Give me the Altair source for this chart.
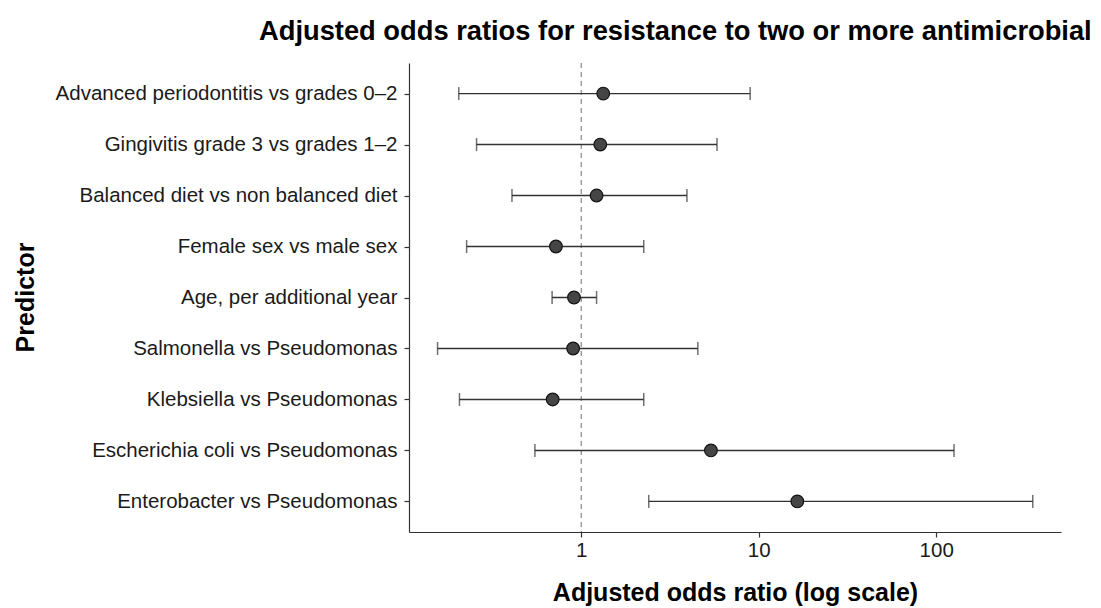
import altair as alt
import pandas as pd

predictors = [
    "Advanced periodontitis vs grades 0–2",
    "Gingivitis grade 3 vs grades 1–2",
    "Balanced diet vs non balanced diet",
    "Female sex vs male sex",
    "Age, per additional year",
    "Salmonella vs Pseudomonas",
    "Klebsiella vs Pseudomonas",
    "Escherichia coli vs Pseudomonas",
    "Enterobacter vs Pseudomonas",
]
odds_ratio = [1.33, 1.28, 1.22, 0.72, 0.91, 0.90, 0.69, 5.38, 16.5]
ci_low = [0.204, 0.257, 0.407, 0.226, 0.685, 0.155, 0.206, 0.548, 2.40]
ci_high = [8.95, 5.82, 3.94, 2.25, 1.22, 4.54, 2.25, 126.0, 350.0]
x_ticks = [1, 10, 100]
ref_value = [1]

df = pd.DataFrame({"predictor": predictors, "or": odds_ratio, "lo": ci_low, "hi": ci_high})
ref_df = pd.DataFrame({"ref": ref_value})

FONT = "Liberation Sans"

xscale = alt.Scale(type="log", domain=[0.107, 505], nice=False)
yscale = alt.Scale(type="point", domain=predictors, padding=0.6)

y_enc = alt.Y(
    "predictor:N",
    scale=yscale,
    sort=predictors,
    title="Predictor",
    axis=alt.Axis(
        labelFontSize=20.5, labelColor="#1a1a1a", labelFont=FONT, labelLimit=600,
        titleFontSize=25, titleFont=FONT, titleFontWeight="bold", titleColor="black",
        titleX=-384, titleY=234, titleAngle=-90, titleAlign="center", titleBaseline="middle",
        domainColor="#333333", domainWidth=1.2,
        tickColor="#333333", tickSize=5, tickWidth=1.2, labelPadding=7, grid=False,
    ),
)

x_axis = alt.Axis(
    values=x_ticks, format="~g", labelFontSize=20.5, labelColor="#1a1a1a", labelFont=FONT,
    titleFontSize=25, titleFont=FONT, titleFontWeight="bold", titleColor="black",
    titlePadding=20, domainColor="#333333", domainWidth=1.2,
    tickColor="#333333", tickSize=5, tickWidth=1.2, labelPadding=3, grid=False,
)

ref = alt.Chart(ref_df).mark_rule(color="#888888", strokeDash=[5, 4], strokeWidth=1.2).encode(
    x=alt.X("ref:Q", scale=xscale, axis=x_axis, title="Adjusted odds ratio (log scale)")
)

whisker = alt.Chart(df).mark_rule(color="#333333", strokeWidth=1.4).encode(
    x=alt.X("lo:Q", scale=xscale),
    x2="hi:Q",
    y=y_enc,
)

cap_lo = alt.Chart(df).mark_tick(color="#333333", orient="vertical", size=13, thickness=1.5).encode(
    x=alt.X("lo:Q", scale=xscale), y=y_enc
)
cap_hi = alt.Chart(df).mark_tick(color="#333333", orient="vertical", size=13, thickness=1.5).encode(
    x=alt.X("hi:Q", scale=xscale), y=y_enc
)

points = alt.Chart(df).mark_point(
    filled=True, fill="#454545", stroke="#111111", strokeWidth=1.2, size=160, opacity=1, shape="circle"
).encode(
    x=alt.X("or:Q", scale=xscale), y=y_enc
)

chart = alt.layer(ref, whisker, cap_lo, cap_hi, points).properties(
    width=652,
    height=469,
    padding={"left": 5, "top": 10, "right": 0, "bottom": 0},
    background="white",
    title=alt.TitleParams(
        "Adjusted odds ratios for resistance to two or more antimicrobial",
        anchor="start", frame="group", dx=-150, fontSize=27.3, font=FONT,
        fontWeight="bold", color="black", offset=17,
    ),
).configure_view(strokeWidth=0, stroke="transparent")

chart.save("out.html", embed_options={"renderer": "svg", "actions": False})
